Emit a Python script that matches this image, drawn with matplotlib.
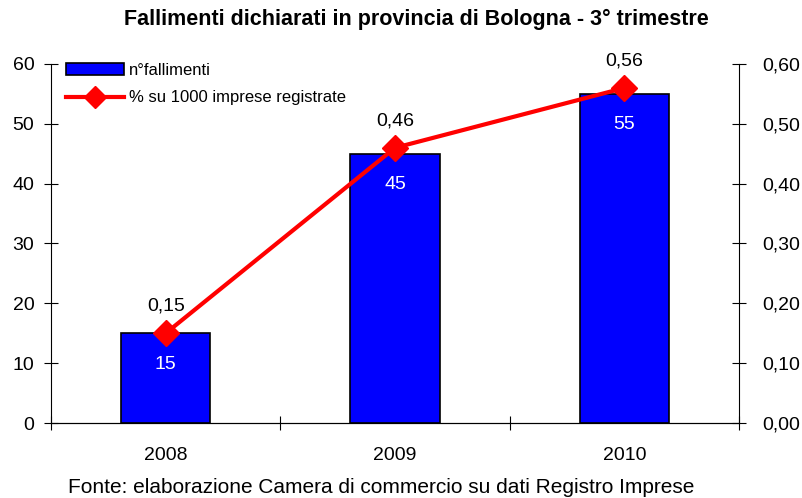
import matplotlib
matplotlib.use("Agg")
import matplotlib.pyplot as plt
import matplotlib.ticker as ticker
import numpy as np

plt.rcParams['font.family'] = ['Liberation Sans', 'DejaVu Sans']

years = ['2008', '2009', '2010']
fallimenti = [15, 45, 55]
perc = [0.15, 0.46, 0.56]

fig = plt.figure(figsize=(8.02, 4.98), dpi=100)
ax = fig.add_axes([0.0636, 0.1506, 0.858, 0.7209])
ax2 = ax.twinx()

x = np.arange(len(years))
bars = ax.bar(x, fallimenti, width=0.39, color='#0000FF', edgecolor='black', linewidth=1.2,
              label='n°fallimenti', zorder=2)
for xi, v in zip(x, fallimenti):
    ax.annotate(str(v), (xi, v), xytext=(0, -31), textcoords='offset pixels',
                ha='center', va='center', color='white', fontsize=14)

ax.set_xlim(-0.5, 2.5)
ax.set_ylim(0, 60)
ax.set_yticks(range(0, 61, 10))
ax.set_xticks([-0.5, 0.5, 1.5, 2.5])
ax.set_xticklabels([])
ax.set_xticks(x, minor=True)
ax.set_xticklabels(years, minor=True)
ax.tick_params(axis='x', which='minor', length=0, labelsize=14, pad=17)
ax.tick_params(axis='x', which='major', direction='inout', length=10, width=0.8)
ax.tick_params(axis='y', direction='inout', length=10, width=0.8, labelsize=14, pad=7)
ax.spines['top'].set_visible(False)
ax.spines['right'].set_visible(False)

line, = ax2.plot(x, perc, color='#FF0000', linewidth=3, marker='D', markersize=13.5,
                 label='% su 1000 imprese registrate', zorder=3)
for xi, v in zip(x, perc):
    ax2.annotate(('%.2f' % v).replace('.', ','), (xi, v), xytext=(0, 27), textcoords='offset pixels',
                 ha='center', va='center', fontsize=14)
ax2.set_ylim(0, 0.6)
ax2.set_yticks(np.arange(0, 0.61, 0.1))
ax2.yaxis.set_major_formatter(ticker.FuncFormatter(lambda v, p: ('%.2f' % v).replace('.', ',')))
ax2.tick_params(axis='y', direction='inout', length=10, width=0.8, labelsize=14, pad=12)
ax2.spines['top'].set_visible(False)
ax2.spines['left'].set_visible(False)

ax2.legend([bars, line], ['n°fallimenti', '% su 1000 imprese registrate'],
           loc='upper left', bbox_to_anchor=(0.0, 1.045), frameon=False, fontsize=12,
           handlelength=3.5, handletextpad=0.3, labelspacing=0.75, markerscale=0.8)

fig.text(0.519, 0.96, 'Fallimenti dichiarati in provincia di Bologna - 3° trimestre',
         ha='center', va='center', fontsize=15.5, fontweight='bold')
fig.text(0.475, 0.022, 'Fonte: elaborazione Camera di commercio su dati Registro Imprese',
         ha='center', va='center', fontsize=15)

fig.savefig('out.png', dpi=100)
